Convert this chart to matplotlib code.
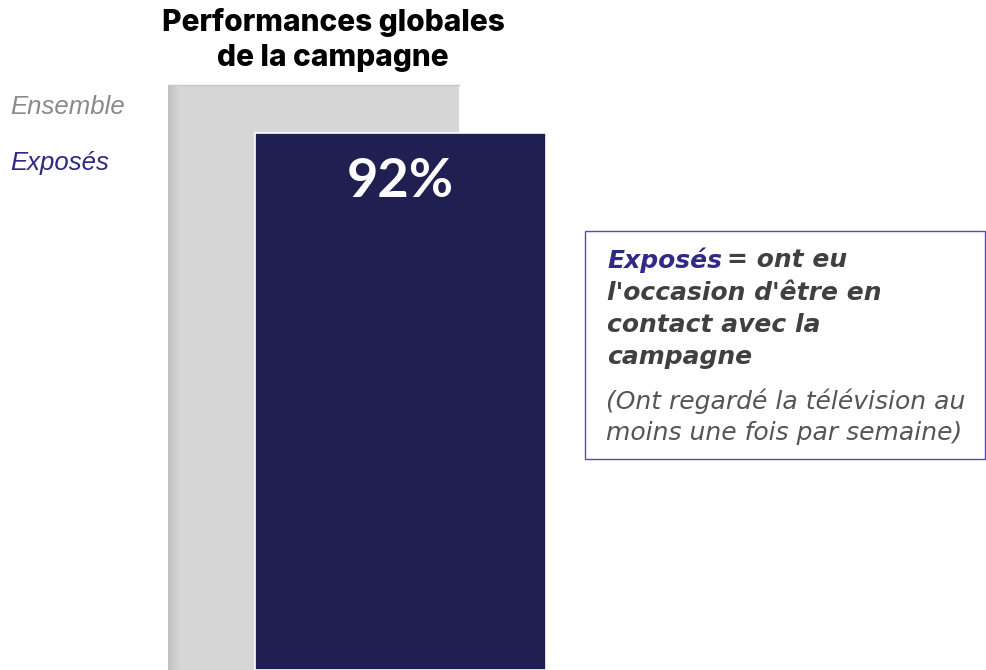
import matplotlib
matplotlib.use("Agg")
import matplotlib.pyplot as plt
import numpy as np

# data
groups = ["Ensemble", "Exposés"]
values = [100, 92]
value_labels = ["", "92%"]
title = "Performances globales\nde la campagne"

GRAY = "#d6d6d6"
NAVY = "#201f52"
INDIGO = "#2e2a85"

fig = plt.figure(figsize=(9.86, 6.70), dpi=100)

# bar axes: 1 value unit = 5.837 px, baseline at the bottom edge of the figure
bar_w = 291 / 87.5
ax = fig.add_axes([168 / 986, 0, (546 - 168) / 986, 1])
ax.set_xlim(-bar_w / 2, 1 + bar_w / 2)
ax.set_ylim(0, 670 / 5.837)
ax.axis("off")

ax.bar(0, values[0], width=bar_w, color=GRAY, zorder=1)
# soft shadow on the left side of the gray bar
grad = np.linspace(0.75, 0.84, 12).reshape(1, -1)
ax.imshow(grad, cmap="gray", vmin=0, vmax=1, aspect="auto",
          extent=(-bar_w / 2, -bar_w / 2 + bar_w * 12 / 291, 0, values[0]), zorder=1.5)
ax.plot([-bar_w / 2 - 0.01, bar_w / 2 + 0.01], [values[0] + 0.15] * 2, color="#c8c8c8", lw=1, zorder=1)
ax.bar(1, values[1], width=bar_w, color=NAVY, edgecolor="white", linewidth=1.2, zorder=2)

ax.annotate(value_labels[1], xy=(1, values[1]), xytext=(0, -17), textcoords="offset points",
            ha="center", va="top", color="white", fontsize=39, fontweight="bold",
            family="Lato", zorder=3)

# title
fig.text(333 / 986, 1 - 40 / 670, title, ha="center", va="center", fontsize=21.5,
         fontweight="heavy", family="Inter", linespacing=1.28)

# legend labels on the left
fig.text(10 / 986, 1 - 107 / 670, groups[0], ha="left", va="center", fontsize=18.5,
         style="italic", color="#8a8a8a", family="Liberation Sans")
fig.text(10 / 986, 1 - 163 / 670, groups[1], ha="left", va="center", fontsize=18.5,
         style="italic", color=INDIGO, family="Liberation Sans")

# definition box
box = plt.Rectangle((585 / 986, 1 - 459 / 670), (985 - 585) / 986, (459 - 231) / 670,
                    transform=fig.transFigure, fill=False, edgecolor="#5a44c8", lw=1)
fig.add_artist(box)

lines_bold = ["= ont eu", "l'occasion d'être en", "contact avec la", "campagne"]
ys = [260, 293, 325, 357]
t = fig.text(607 / 986, 1 - ys[0] / 670, "Exposés", ha="left", va="center", fontsize=18,
             fontweight="bold", style="italic", color=INDIGO, family="DejaVu Sans")
fig.canvas.draw()
bb = t.get_window_extent()
fig.text((bb.x1 + 5) / 986, 1 - ys[0] / 670, lines_bold[0], ha="left", va="center", fontsize=18,
         fontweight="bold", style="italic", color="#404040", family="DejaVu Sans")
for s, y in zip(lines_bold[1:], ys[1:]):
    fig.text(607 / 986, 1 - y / 670, s, ha="left", va="center", fontsize=18,
             fontweight="bold", style="italic", color="#404040", family="DejaVu Sans")

for s, y in zip(["(Ont regardé la télévision au", "moins une fois par semaine)"], [401, 433]):
    fig.text(606 / 986, 1 - y / 670, s, ha="left", va="center", fontsize=18,
             style="italic", color="#555555", family="DejaVu Sans")

fig.savefig("out.png", dpi=100)
